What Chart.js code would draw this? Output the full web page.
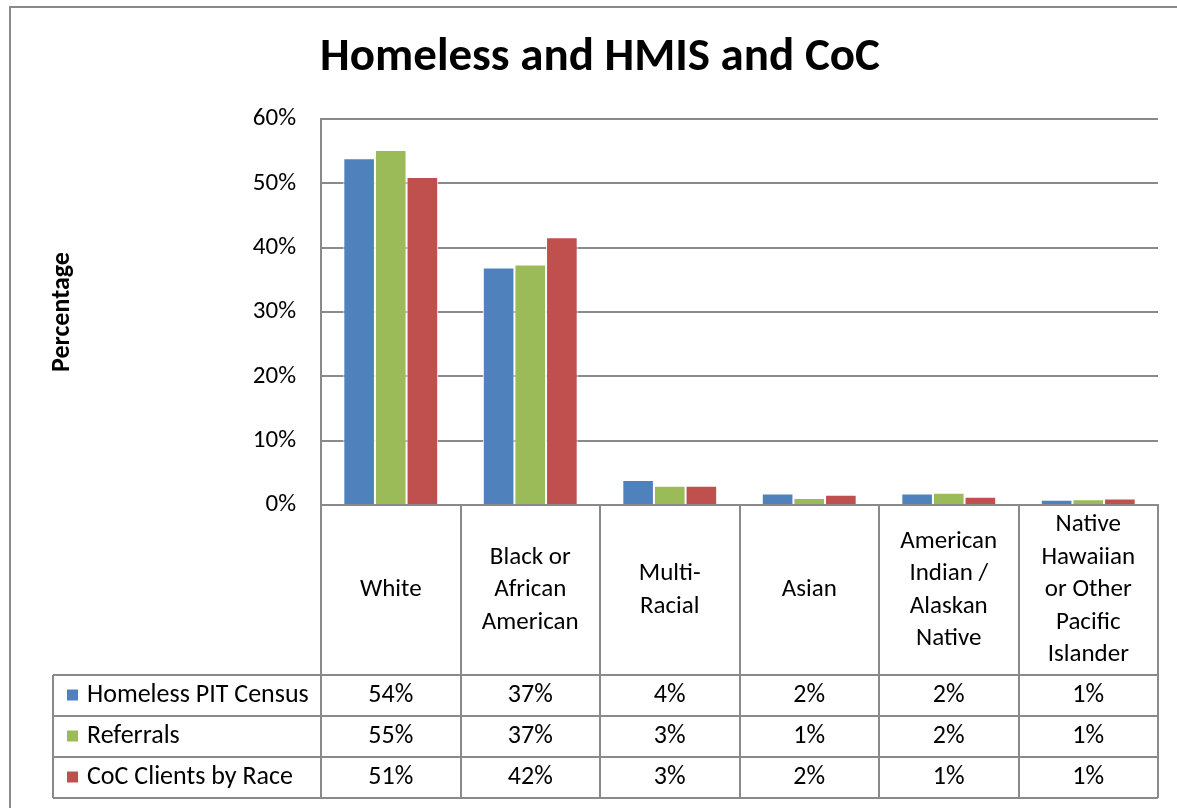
<!DOCTYPE html>
<html>
<head>
<meta charset="utf-8">
<script src="https://cdn.jsdelivr.net/npm/chart.js@4/dist/chart.umd.min.js"></script>
<style>
html,body{margin:0;padding:0;background:#fff;}
#wrap{width:1177px;height:808px;position:relative;}
</style>
</head>
<body>
<div id="wrap"><canvas id="c" width="1177" height="808"></canvas></div>
<script>
const title = 'Homeless and HMIS and CoC';
const yAxisTitle = 'Percentage';
const categories = [
  ['White'],
  ['Black or', 'African', 'American'],
  ['Multi-', 'Racial'],
  ['Asian'],
  ['American', 'Indian /', 'Alaskan', 'Native'],
  ['Native', 'Hawaiian', 'or Other', 'Pacific', 'Islander']
];
const seriesNames = ['Homeless PIT Census', 'Referrals', 'CoC Clients by Race'];
const homelessPIT = [53.9, 36.9, 3.9, 1.8, 1.8, 0.8];
const referrals   = [55.2, 37.4, 3.0, 1.1, 1.9, 0.9];
const cocClients  = [51.0, 41.6, 3.0, 1.6, 1.3, 1.0];
const colors = ['#4F81BD', '#9BBB59', '#C0504D'];
const yTicks = [0, 10, 20, 30, 40, 50, 60];

const FONT = 'Carlito, Calibri, Lato, "Liberation Sans", sans-serif';
const GRID = '#8a8a8a';

const tablePlugin = {
  id: 'tablePlugin',
  afterDraw(chart) {
    const ctx = chart.ctx;
    const x = chart.scales.x;
    const area = chart.chartArea;
    const n = categories.length;
    const step = x.getPixelForValue(1) - x.getPixelForValue(0);
    const left = x.getPixelForValue(0) - step / 2;
    const right = x.getPixelForValue(n - 1) + step / 2;
    const top = area.bottom;
    const labelBottom = 675;
    const rowH = 41;
    const tableBottom = labelBottom + rowH * seriesNames.length;
    const legendLeft = 53;
    ctx.save();
    // outer frame
    ctx.strokeStyle = '#8a8a8a';
    ctx.lineWidth = 2;
    ctx.beginPath();
    ctx.moveTo(10, 820); ctx.lineTo(10, 7); ctx.lineTo(1190, 7);
    ctx.stroke();
    // title
    ctx.fillStyle = '#000';
    ctx.font = 'bold 47px ' + FONT;
    ctx.textAlign = 'center';
    ctx.textBaseline = 'middle';
    ctx.fillText(title, 600, 58);
    // y title
    ctx.save();
    ctx.translate(62, (area.top + area.bottom) / 2 + 0);
    ctx.rotate(-Math.PI / 2);
    ctx.font = 'bold 26px ' + FONT;
    ctx.fillText(yAxisTitle, 0, 0);
    ctx.restore();
    // table lines
    ctx.strokeStyle = GRID;
    ctx.lineWidth = 2;
    ctx.beginPath();
    for (let i = 0; i <= n; i++) {
      const px = Math.round(left + step * i);
      ctx.moveTo(px, top); ctx.lineTo(px, tableBottom);
    }
    for (let r = 0; r <= seriesNames.length; r++) {
      const py = labelBottom + rowH * r;
      ctx.moveTo(legendLeft, py); ctx.lineTo(right, py);
    }
    ctx.moveTo(legendLeft, labelBottom); ctx.lineTo(legendLeft, tableBottom);
    ctx.stroke();
    // category labels
    ctx.font = '25px ' + FONT;
    ctx.fillStyle = '#000';
    const lh = 32.5;
    const midY = (top + labelBottom) / 2;
    for (let i = 0; i < n; i++) {
      const cx = x.getPixelForValue(i);
      const lines = categories[i];
      const start = midY - (lines.length - 1) * lh / 2;
      lines.forEach((t, k) => ctx.fillText(t, cx, start + k * lh));
    }
    // legend rows & values
    ctx.font = '26px ' + FONT;
    const series = [homelessPIT, referrals, cocClients];
    series.forEach((arr, r) => {
      const cy = labelBottom + rowH * r + rowH / 2;
      ctx.fillStyle = colors[r];
      ctx.fillRect(67, cy - 6, 11, 11);
      ctx.fillStyle = '#000';
      ctx.textAlign = 'left';
      ctx.fillText(seriesNames[r], 87, cy);
      ctx.textAlign = 'center';
      arr.forEach((v, i) => ctx.fillText(Math.round(v) + '%', x.getPixelForValue(i), cy));
    });
    ctx.restore();
  }
};

new Chart(document.getElementById('c'), {
  type: 'bar',
  data: {
    labels: categories.map(c => c.join(' ')),
    datasets: [
      { label: seriesNames[0], data: homelessPIT, backgroundColor: colors[0] },
      { label: seriesNames[1], data: referrals, backgroundColor: colors[1] },
      { label: seriesNames[2], data: cocClients, backgroundColor: colors[2] }
    ].map(d => Object.assign(d, { borderColor: '#ffffff', borderWidth: 1, borderSkipped: 'bottom', categoryPercentage: 0.68, barPercentage: 1.0 }))
  },
  options: {
    responsive: false,
    animation: false,
    layout: { padding: { left: 0, top: 119, right: 19, bottom: 295 } },
    plugins: { legend: { display: false }, title: { display: false }, tooltip: { enabled: false } },
    scales: {
      x: {
        ticks: { display: false },
        grid: { display: false },
        border: { display: true, color: GRID, width: 2 }
      },
      y: {
        min: 0, max: 60,
        afterBuildTicks(scale) { scale.ticks = yTicks.map(v => ({ value: v })); },
        afterFit(scale) { scale.width = 321; },
        ticks: { callback: v => v + '%', font: { family: FONT, size: 25 }, color: '#000', padding: 25 },
        grid: { color: GRID, lineWidth: 2, drawTicks: false },
        border: { display: true, color: GRID, width: 2 }
      }
    }
  },
  plugins: [tablePlugin]
});
</script>
</body>
</html>
